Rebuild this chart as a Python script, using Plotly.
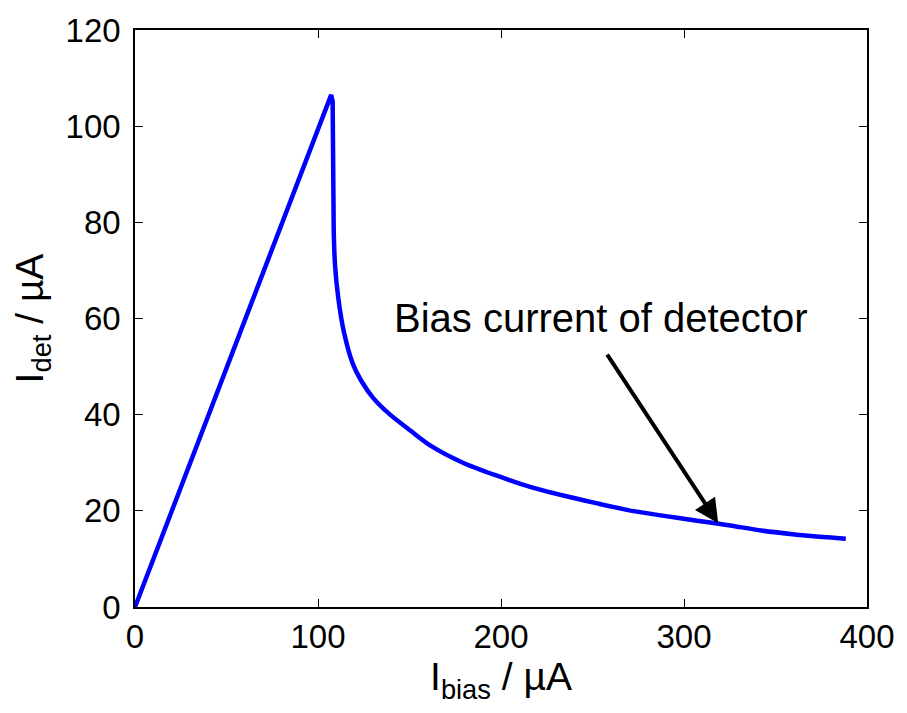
import plotly.graph_objects as go

# Data
i_bias = [0, 20, 40, 60, 80, 100, 107.2, 108.0, 108.3, 108.6, 109.3, 111.1,
          114.1, 119.2, 123.7, 130.1, 139.1, 150.8, 161.7, 179.8, 197.8,
          215.9, 234, 252, 270.1, 288.2, 306.2, 324.3, 342.4, 360.4, 378.5,
          388.4]
i_det = [0, 19.9, 39.7, 59.6, 79.5, 99.3, 106.5, 105.2, 94, 78, 71.1, 64.2,
         57.3, 50.4, 47.0, 43.5, 40.1, 36.6, 33.5, 29.9, 27.3,
         25.0, 23.2, 21.6, 20.1, 19.0, 18.0, 17.0, 15.9, 15.1, 14.5,
         14.2]
knee_index = 9      # end of the near-vertical drop

x_ticks = [0, 100, 200, 300, 400]
y_ticks = [0, 20, 40, 60, 80, 100, 120]

annot_text = "Bias current of detector"
arrow_tail = (257.5, 52.8)
arrow_head = (318.7, 17.4)
text_pos = (254.7, 60.2)

FONT = "Liberation Sans, Arial, Helvetica, sans-serif"
LINE = dict(color="#0000ff", width=4.5)

fig = go.Figure()
# rising branch and near-vertical drop (straight segments)
fig.add_trace(go.Scatter(x=i_bias[:knee_index + 1], y=i_det[:knee_index + 1],
                         mode="lines", line=LINE,
                         showlegend=False, hoverinfo="skip"))
# decaying branch (smooth)
fig.add_trace(go.Scatter(x=i_bias[knee_index:], y=i_det[knee_index:],
                         mode="lines", line=dict(**LINE, shape="spline",
                                                 smoothing=0.8),
                         showlegend=False, hoverinfo="skip"))

axis_common = dict(showgrid=False, zeroline=False, ticks="inside", ticklen=8,
                   tickwidth=1.2, tickcolor="black", showline=True,
                   linecolor="black", linewidth=1.5, mirror="ticks",
                   tickfont=dict(family=FONT, size=33, color="black"))

fig.update_xaxes(range=[0, 400], tickvals=x_ticks,
                 title=dict(text="I<sub>bias</sub> / µA",
                            font=dict(family=FONT, size=39, color="black"),
                            standoff=4),
                 **axis_common)
fig.update_yaxes(range=[0, 120], tickvals=y_ticks, ticklabelstandoff=6,
                 title=dict(text="I<sub>det</sub> / µA",
                            font=dict(family=FONT, size=39, color="black"),
                            standoff=10),
                 **axis_common)

fig.add_annotation(x=text_pos[0], y=text_pos[1], xref="x", yref="y",
                   text=annot_text, showarrow=False,
                   font=dict(family=FONT, size=40, color="black"),
                   xanchor="center", yanchor="middle")
fig.add_annotation(x=arrow_head[0], y=arrow_head[1], xref="x", yref="y",
                   ax=arrow_tail[0], ay=arrow_tail[1], axref="x", ayref="y",
                   text="", showarrow=True, arrowhead=2, arrowsize=1.2,
                   arrowwidth=4, arrowcolor="black")

fig.update_layout(width=907, height=713, autosize=False,
                  margin=dict(l=135, r=34, t=27, b=106),
                  paper_bgcolor="white", plot_bgcolor="white",
                  font=dict(family=FONT, color="black"))

fig.write_html("out.html")
